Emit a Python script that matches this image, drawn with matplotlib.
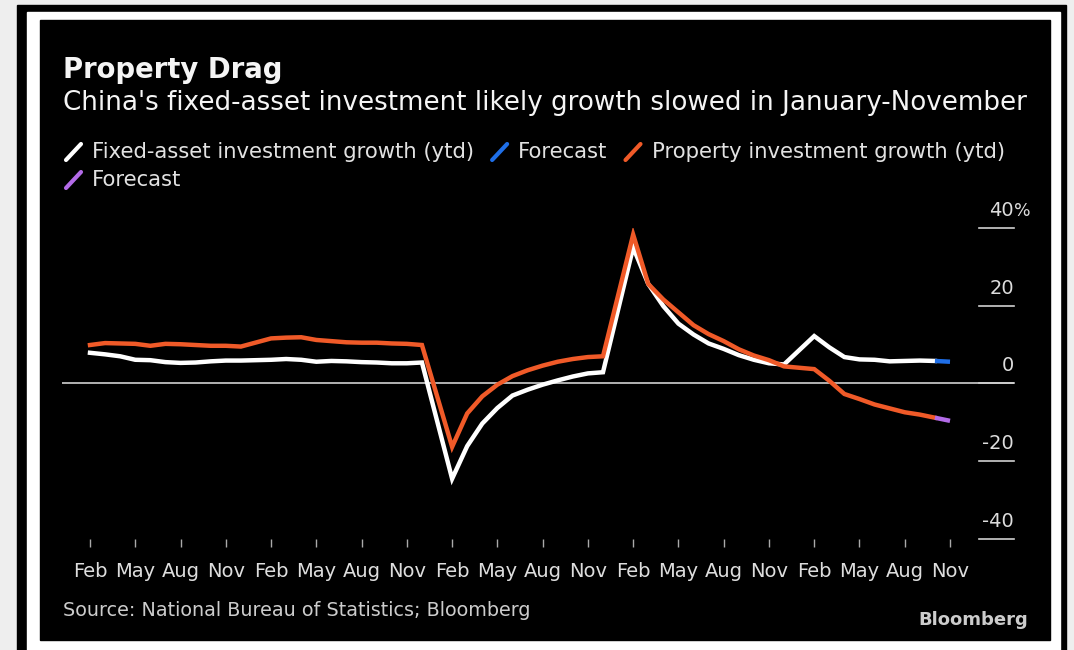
import numpy as np
import matplotlib
matplotlib.use("Agg")
import matplotlib.pyplot as plt
from matplotlib.lines import Line2D
from matplotlib.patches import Rectangle

# ---------------------------------------------
#  Data: year-to-date growth, % (Jan-Feb combined)
# ---------------------------------------------
years = [2018, 2019, 2020, 2021, 2022]
months = [2, 3, 4, 5, 6, 7, 8, 9, 10, 11, 12]

fai_growth = [
    7.9, 7.5, 7.0, 6.1, 6.0, 5.5, 5.3, 5.4, 5.7, 5.9, 5.9,
    6.1, 6.3, 6.1, 5.6, 5.8, 5.7, 5.5, 5.4, 5.2, 5.2, 5.4,
    -24.5, -16.1, -10.3, -6.3, -3.1, -1.6, -0.3, 0.8, 1.8, 2.6, 2.9,
    35.0, 25.6, 19.9, 15.4, 12.6, 10.3, 8.9, 7.3, 6.1, 5.2, 4.9,
    12.2, 9.3, 6.8, 6.2, 6.1, 5.7, 5.8, 5.9, 5.8,
]
property_growth = [
    9.9, 10.4, 10.3, 10.2, 9.7, 10.2, 10.1, 9.9, 9.7, 9.7, 9.5,
    11.6, 11.8, 11.9, 11.2, 10.9, 10.6, 10.5, 10.5, 10.3, 10.2, 9.9,
    -16.3, -7.7, -3.3, -0.3, 1.9, 3.4, 4.6, 5.6, 6.3, 6.8, 7.0,
    38.3, 25.6, 21.6, 18.3, 15.0, 12.7, 10.9, 8.8, 7.2, 6.0, 4.4,
    3.7, 0.7, -2.7, -4.0, -5.4, -6.4, -7.4, -8.0, -8.8,
]
fai_forecast = 5.6        # Nov 2022
property_forecast = -9.6  # Nov 2022

yticks = [40, 20, 0, -20, -40]
xtick_names = ["Feb", "May", "Aug", "Nov"]

# month index: 0 = Jan 2018
periods = [(y, m) for y in years for m in months][:len(fai_growth)]
x = np.array([(y - 2018) * 12 + m - 1 for y, m in periods])
x_fc = x[-1] + 1

W, H = 1074, 650
fig = plt.figure(figsize=(W / 100, H / 100), dpi=100)
fig.patch.set_facecolor("#eeeeee")

def px_rect(x0, y0, x1, y1, color):
    fig.patches.append(Rectangle((x0 / W, 1 - y1 / H), (x1 - x0) / W, (y1 - y0) / H,
                                 transform=fig.transFigure, color=color, zorder=-10))

px_rect(17, 5, 1066, 660, "#000000")
px_rect(27, 12, 1060, 660, "#ffffff")
px_rect(40, 20, 1050, 640, "#000000")

# axes spanning the -40..40 gridlines
ax_l, ax_r, ax_t, ax_b = 62, 1014, 228, 539
ax = fig.add_axes([ax_l / W, 1 - ax_b / H, (ax_r - ax_l) / W, (ax_b - ax_t) / H])
ax.set_facecolor("none")
ax.set_zorder(5)
for s in ax.spines.values():
    s.set_visible(False)

m0 = 1 - (90 - ax_l) / 15.088
m1 = 1 + (ax_r - 90) / 15.088
ax.set_xlim(m0, m1)
ax.set_ylim(-40, 40)

ax.axhline(0, color="#d0d0d0", lw=1.2, zorder=1)

ax.plot(x, fai_growth, color="white", lw=3.2, solid_joinstyle="miter", zorder=3)
ax.plot([x[-1], x_fc], [fai_growth[-1], fai_forecast], color="#1f6fe8", lw=3.2,
        solid_capstyle="butt", zorder=3)
ax.plot(x, property_growth, color="#f05a28", lw=3.2, solid_joinstyle="miter", zorder=4)
ax.plot([x[-1], x_fc], [property_growth[-1], property_forecast], color="#b36be8", lw=3.2,
        solid_capstyle="butt", zorder=4)

# y gridline stubs and labels
for v in yticks:
    ax.plot([0.963, 1.0], [v, v], color="#d0d0d0", lw=1.2,
            transform=ax.get_yaxis_transform(), clip_on=False)
    ax.annotate(str(v), xy=(1.0, v), xycoords=ax.get_yaxis_transform(),
                xytext=(0, 12), textcoords="offset pixels",
                ha="right", va="baseline", color="#dddddd", fontsize=14)
ax.annotate("%", xy=(1.0, 40), xycoords=ax.get_yaxis_transform(),
            xytext=(0, 12), textcoords="offset pixels",
            ha="left", va="baseline", color="#dddddd", fontsize=12.5)
ax.set_yticks([])

# x ticks
tick_pos = [(y - 2018) * 12 + m - 1 for y in years for m in [2, 5, 8, 11]]
ax.set_xticks(tick_pos)
ax.set_xticklabels(xtick_names * len(years))
ax.tick_params(axis="x", direction="out", length=6, width=1, color="#aaaaaa",
               pad=10.5, labelsize=14, labelcolor="#dddddd")

# titles
fig.text(63 / W, 1 - 70 / H, "Property Drag", color="#f5f5f5", fontsize=19.8,
         fontweight="bold", va="center", ha="left")
fig.text(63 / W, 1 - 103 / H,
         "China's fixed-asset investment likely growth slowed in January-November",
         color="#f5f5f5", fontsize=18.8, va="center", ha="left")

# legend
legend_items = [
    [("white", "Fixed-asset investment growth (ytd)"), ("#1f6fe8", "Forecast"),
     ("#f05a28", "Property investment growth (ytd)")],
    [("#b36be8", "Forecast")],
]
fig.canvas.draw()
renderer = fig.canvas.get_renderer()
row_y = [152, 180]
for row, yc in zip(legend_items, row_y):
    xpos = 66
    for color, label in row:
        fig.lines.append(Line2D([xpos / W, (xpos + 15) / W],
                                [1 - (yc + 8) / H, 1 - (yc - 8) / H],
                                transform=fig.transFigure, color=color, lw=3,
                                solid_capstyle="round"))
        t = fig.text((xpos + 26) / W, 1 - yc / H, label, color="#e2e2e2",
                     fontsize=15.2, va="center", ha="left")
        bb = t.get_window_extent(renderer)
        xpos = bb.x1 + 18

# footer
fig.text(63 / W, 1 - 610 / H, "Source: National Bureau of Statistics; Bloomberg",
         color="#cccccc", fontsize=13.8, va="center", ha="left")
fig.text(1028 / W, 1 - 620 / H, "Bloomberg", color="#cccccc", fontsize=13,
         fontweight="bold", va="center", ha="right")

fig.savefig("out.png", dpi=100, facecolor=fig.get_facecolor())
